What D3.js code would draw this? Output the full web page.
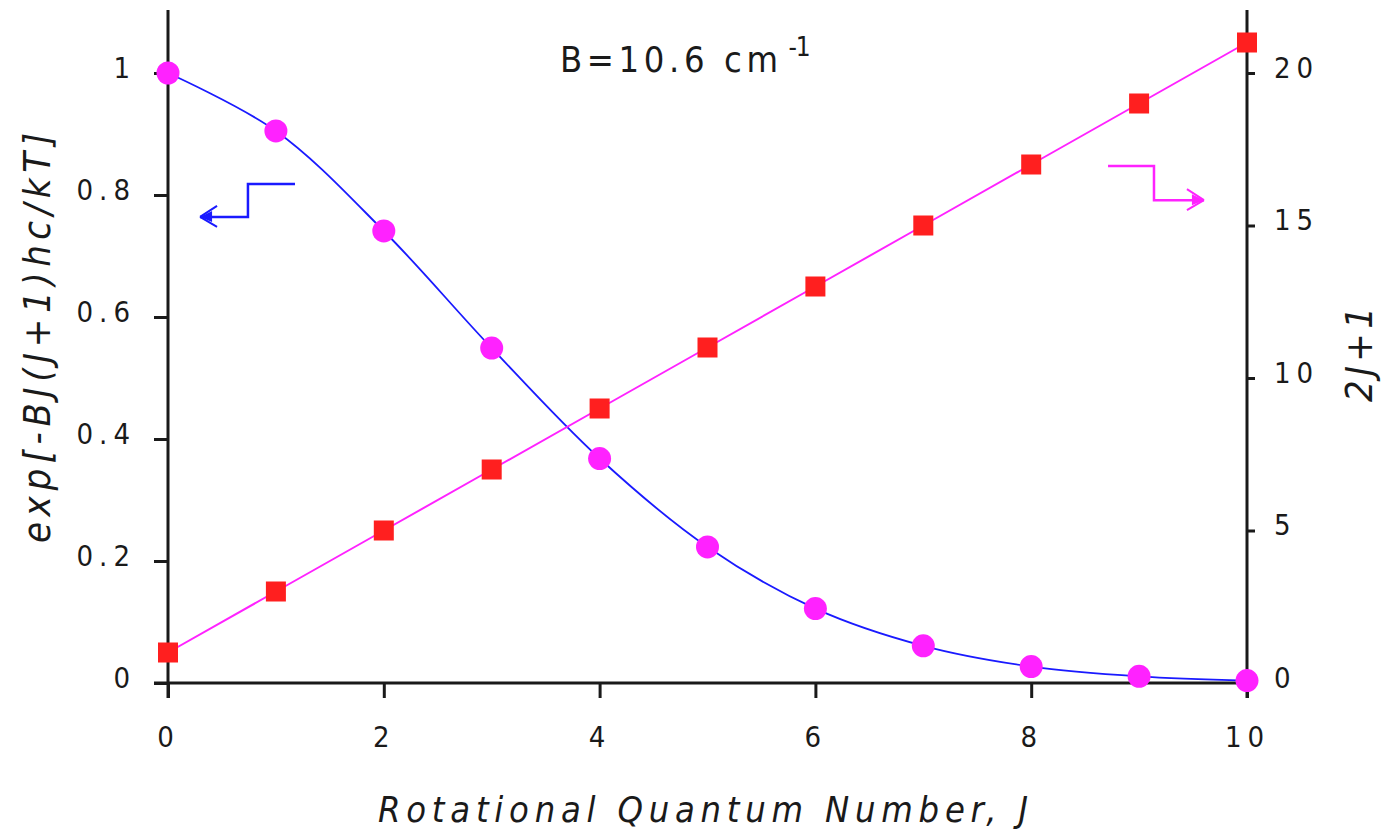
<!DOCTYPE html>
<html>
<head>
<meta charset="utf-8">
<script src="https://cdn.jsdelivr.net/npm/d3@7"></script>
<style>
  html, body { margin: 0; padding: 0; background: #fff; }
  svg { display: block; }
  .lbl { font-family: "Liberation Sans Narrow", "DejaVu Sans Condensed", "Liberation Sans", sans-serif; fill: #1a1a1a; }
</style>
</head>
<body>
<svg id="chart" width="1383" height="833"></svg>
<script>
// ---- data ----
const rotJ = [0, 1, 2, 3, 4, 5, 6, 7, 8, 9, 10];
const boltzmann = [1, 0.905, 0.741, 0.549, 0.368, 0.223, 0.122, 0.061, 0.027, 0.011, 0.004];
const degeneracy = [1, 3, 5, 7, 9, 11, 13, 15, 17, 19, 21];
const xTicks = [0, 2, 4, 6, 8, 10];
const xTickLabels = ["0", "2", "4", "6", "8", "10"];
const yLeftTicks = [0, 0.2, 0.4, 0.6, 0.8, 1];
const yLeftTickLabels = ["0", "0.2", "0.4", "0.6", "0.8", "1"];
const yRightTicks = [0, 5, 10, 15, 20];
const yRightTickLabels = ["0", "5", "10", "15", "20"];
const titleText = "B=10.6 cm";
const titleSup = "-1";
const xTitle = "Rotational Quantum Number, J";
const yLeftTitle = "exp[-BJ(J+1)hc/kT]";
const yRightTitle = "2J+1";
// legend arrows in data units: [J, value]
const blueArrow = [[1.177, 0.818], [0.741, 0.818], [0.741, 0.764], [0.297, 0.764]];
const pinkArrow = [[8.712, 16.95], [9.138, 16.95], [9.138, 15.83], [9.601, 15.83]];

// ---- colours ----
const AX = "#1a1a1a", BLUE = "#1a1aff", PINK = "#ff22ff", RED = "#ff1f1f";

const svg = d3.select("#chart");
const x = d3.scaleLinear().domain([0, 10]).range([168, 1247]);
const yL = d3.scaleLinear().domain([0, 1.1]).range([683, 12]);
const yR = d3.scaleLinear().domain([0, 22]).range([683, 12]);

// ---- axes ----
function styleAxis(g) {
  g.select(".domain").remove();
  g.selectAll(".tick line").attr("stroke", AX).attr("stroke-width", 3);
  g.selectAll(".tick text").attr("class", "lbl").attr("fill", AX)
    .style("font-size", "29px").style("letter-spacing", "6px");
}
svg.append("g").attr("transform", "translate(0,683)")
  .call(d3.axisBottom(x).tickValues(xTicks).tickFormat((d, i) => xTickLabels[i]).tickSize(15).tickPadding(28))
  .call(styleAxis);

const gl = svg.append("g").attr("transform", "translate(168,0)")
  .call(d3.axisLeft(yL).tickValues(yLeftTicks).tickFormat((d, i) => yLeftTickLabels[i]).tickSize(14).tickPadding(24))
  .call(styleAxis);
gl.selectAll(".tick text").attr("dy", "0.15em").attr("dx", "6");

const gr = svg.append("g").attr("transform", "translate(1247,0)")
  .call(d3.axisRight(yR).tickValues(yRightTicks).tickFormat((d, i) => yRightTickLabels[i]).tickSize(8).tickPadding(19))
  .call(styleAxis);
gr.selectAll(".tick text").attr("dy", "0.15em");

// axis lines
svg.append("line").attr("x1", 154).attr("x2", 1255).attr("y1", 683).attr("y2", 683).attr("stroke", AX).attr("stroke-width", 3);
svg.append("line").attr("x1", 168).attr("x2", 168).attr("y1", 10).attr("y2", 698).attr("stroke", AX).attr("stroke-width", 3);
svg.append("line").attr("x1", 1247).attr("x2", 1247).attr("y1", 10).attr("y2", 698).attr("stroke", AX).attr("stroke-width", 3);

// ---- lines ----
const blueLine = d3.line().x((d, i) => x(rotJ[i])).y(d => yL(d)).curve(d3.curveCatmullRom);
svg.append("path").datum(boltzmann).attr("d", blueLine).attr("fill", "none").attr("stroke", BLUE).attr("stroke-width", 1.8);
const pinkLine = d3.line().x((d, i) => x(rotJ[i])).y(d => yR(d));
svg.append("path").datum(degeneracy).attr("d", pinkLine).attr("fill", "none").attr("stroke", PINK).attr("stroke-width", 2);

// ---- markers ----
svg.append("g").selectAll("rect").data(degeneracy).join("rect")
  .attr("x", (d, i) => x(rotJ[i]) - 10).attr("y", d => yR(d) - 10)
  .attr("width", 20).attr("height", 20).attr("fill", RED);
svg.append("g").selectAll("circle").data(boltzmann).join("circle")
  .attr("cx", (d, i) => x(rotJ[i])).attr("cy", d => yL(d)).attr("r", 11.5).attr("fill", PINK);

// ---- legend arrows ----
const arrowL = d3.line().x(d => x(d[0])).y(d => yL(d[1]));
svg.append("path").attr("d", arrowL(blueArrow)).attr("fill", "none").attr("stroke", BLUE).attr("stroke-width", 2.5);
{
  const tip = blueArrow[3]; const tx = x(tip[0]), ty = yL(tip[1]);
  svg.append("path").attr("d", `M${tx},${ty} L${tx + 17},${ty - 11} M${tx},${ty} L${tx + 17},${ty + 10}`)
    .attr("stroke", BLUE).attr("stroke-width", 2).attr("fill", "none");
  svg.append("path").attr("d", `M${tx},${ty} L${tx + 12},${ty - 6} L${tx + 12},${ty + 5} Z`).attr("fill", BLUE);
}
const arrowR = d3.line().x(d => x(d[0])).y(d => yR(d[1]));
svg.append("path").attr("d", arrowR(pinkArrow)).attr("fill", "none").attr("stroke", PINK).attr("stroke-width", 2.5);
{
  const tip = pinkArrow[3]; const tx = x(tip[0]), ty = yR(tip[1]);
  svg.append("path").attr("d", `M${tx},${ty} L${tx - 17},${ty - 11} M${tx},${ty} L${tx - 17},${ty + 10}`)
    .attr("stroke", PINK).attr("stroke-width", 2).attr("fill", "none");
  svg.append("path").attr("d", `M${tx},${ty} L${tx - 12},${ty - 6} L${tx - 12},${ty + 5} Z`).attr("fill", PINK);
}

// ---- texts ----
const t = svg.append("text").attr("class", "lbl").attr("x", 560).attr("y", 72)
  .style("font-size", "36px");
t.append("tspan").text(titleText).attr("textLength", 218).attr("lengthAdjust", "spacing");
t.append("tspan").text(titleSup).attr("dx", 6).attr("dy", -16).style("font-size", "26px")
  .attr("textLength", 22).attr("lengthAdjust", "spacing");

svg.append("text").attr("class", "lbl").attr("x", 378).attr("y", 822)
  .style("font-size", "36px").style("font-style", "italic")
  .attr("textLength", 650).attr("lengthAdjust", "spacing").text(xTitle);

svg.append("text").attr("class", "lbl")
  .attr("transform", "translate(50,543) rotate(-90)")
  .style("font-size", "38px").style("font-style", "italic")
  .attr("textLength", 410).attr("lengthAdjust", "spacing").text(yLeftTitle);

svg.append("text").attr("class", "lbl")
  .attr("transform", "translate(1372,402) rotate(-90)")
  .style("font-size", "38px").style("font-style", "italic")
  .attr("textLength", 95).attr("lengthAdjust", "spacing").text(yRightTitle);
</script>
</body>
</html>
